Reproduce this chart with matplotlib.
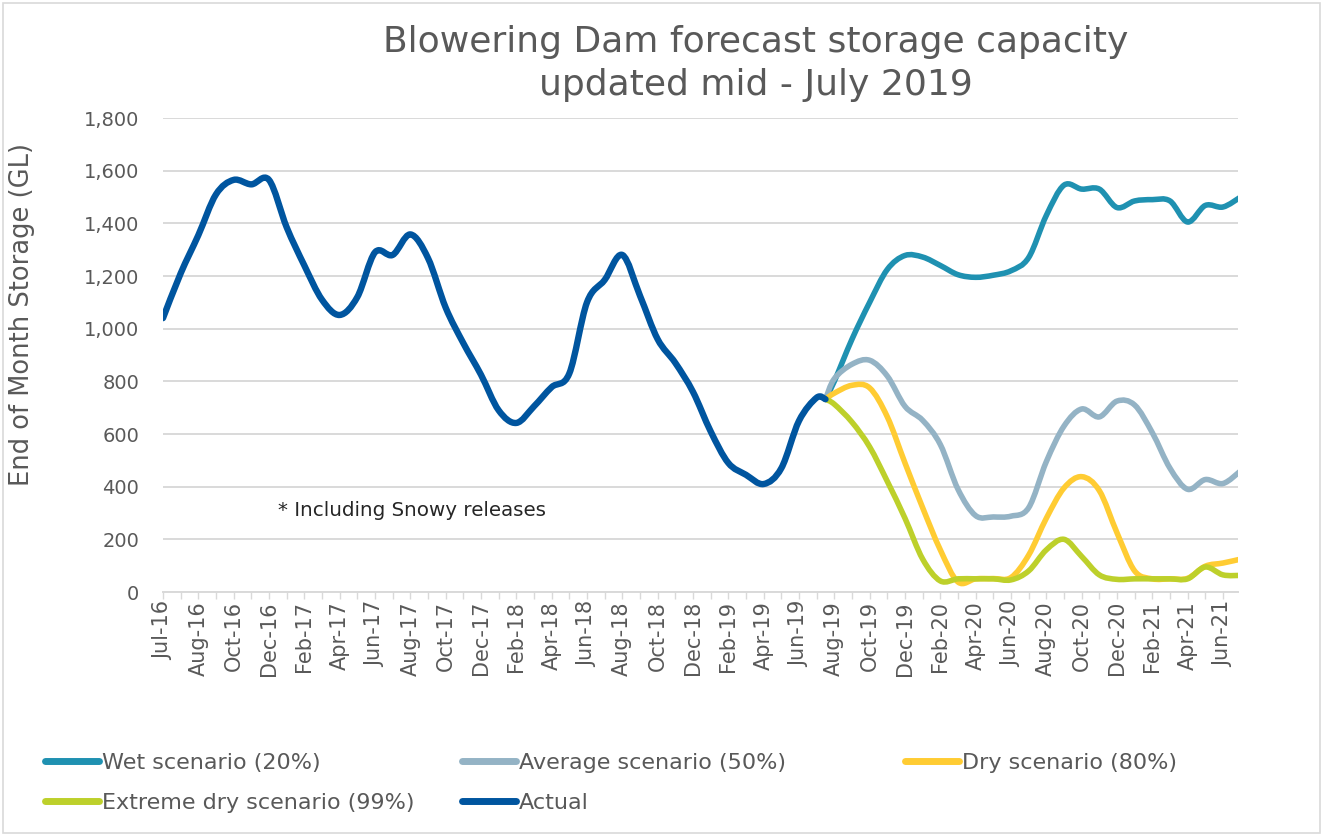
import numpy as np
import matplotlib
matplotlib.use("Agg")
import matplotlib.pyplot as plt
from matplotlib.path import Path
from matplotlib.patches import PathPatch, Rectangle
from matplotlib.lines import Line2D

# ---------------- data ----------------
tick_labels = ["Jul-16", "Aug-16", "Oct-16", "Dec-16", "Feb-17", "Apr-17", "Jun-17",
               "Aug-17", "Oct-17", "Dec-17", "Feb-18", "Apr-18", "Jun-18", "Aug-18",
               "Oct-18", "Dec-18", "Feb-19", "Apr-19", "Jun-19", "Aug-19", "Oct-19",
               "Dec-19", "Feb-20", "Apr-20", "Jun-20", "Aug-20", "Oct-20", "Dec-20",
               "Feb-21", "Apr-21", "Jun-21"]

# month positions on the category axis (0 = first category)
actual_months = list(range(0, 38)) + [37.5]
actual = [1040, 1210, 1355, 1510, 1565, 1548, 1565, 1385, 1240, 1110,
          1052, 1120, 1290, 1280, 1358, 1268, 1080, 945, 825, 690,
          642, 705, 778, 830, 1100, 1185, 1280, 1125, 960, 870,
          760, 610, 490, 445, 410, 470, 650, 738, 732]

scenario_months = [37.5] + list(range(38, 62))
wet = [732, 800, 960, 1100, 1225, 1278, 1272, 1240, 1205, 1195, 1203, 1220, 1270,
       1430, 1545, 1530, 1530, 1460, 1485, 1490, 1485, 1405, 1468, 1462, 1500]
average = [732, 810, 865, 880, 820, 705, 652, 560, 390, 290, 285, 288, 320,
           495, 630, 695, 665, 725, 710, 605, 470, 390, 427, 412, 460]
dry = [732, 755, 785, 775, 665, 490, 320, 160, 38, 50, 51, 55, 140,
       280, 395, 438, 385, 225, 80, 50, 50, 52, 98, 110, 125]
extreme = [732, 713, 645, 551, 420, 280, 125, 42, 50, 50, 50, 46, 80,
           160, 200, 135, 65, 48, 50, 50, 50, 50, 95, 65, 63]

series = [
    ("Wet scenario (20%)", scenario_months, wet, "#1F91B1"),
    ("Average scenario (50%)", scenario_months, average, "#94B3C5"),
    ("Dry scenario (80%)", scenario_months, dry, "#FFCC33"),
    ("Extreme dry scenario (99%)", scenario_months, extreme, "#BDD02B"),
    ("Actual", actual_months, actual, "#00559F"),
]

# ---------------- helpers ----------------
def smooth_path(xs, ys):
    """Excel-like smoothed line: cubic Bezier through the points."""
    pts = np.column_stack([np.asarray(xs, float), np.asarray(ys, float)])
    n = len(pts)
    verts = [pts[0]]
    codes = [Path.MOVETO]
    for i in range(n - 1):
        p0 = pts[i - 1] if i > 0 else pts[i]
        p1 = pts[i]
        p2 = pts[i + 1]
        p3 = pts[i + 2] if i + 2 < n else pts[i + 1]
        c1 = p1 + (p2 - p0) / 6.0
        c2 = p2 - (p3 - p1) / 6.0
        verts += [c1, c2, p2]
        codes += [Path.CURVE4] * 3
    return Path(verts, codes)

# ---------------- figure ----------------
plt.rcParams["font.family"] = ["DejaVu Sans"]
W, H = 1325, 836
fig = plt.figure(figsize=(W / 100, H / 100), dpi=100)
fig.patch.set_facecolor("white")

L, R, T, B = 163, 1238, 118, 592
ax = fig.add_axes([L / W, 1 - B / H, (R - L) / W, (B - T) / H])

grey_txt = "#595959"
grid_c = "#D9D9D9"

for name, xs, ys, col in series:
    lw = 4.6 if name == "Actual" else 4.0
    patch = PathPatch(smooth_path(xs, ys), facecolor="none", edgecolor=col,
                      linewidth=lw, capstyle="round", joinstyle="round", zorder=3)
    ax.add_patch(patch)

ax.set_xlim(0, 60.85)
ax.set_ylim(0, 1800)

ax.set_yticks(np.arange(0, 1801, 200))
ax.set_yticklabels([f"{v:,}" for v in range(0, 1801, 200)])
ax.yaxis.grid(True, color=grid_c, linewidth=1.4)
ax.set_axisbelow(True)

xt = np.arange(0, 61, 1)
ax.set_xticks(xt)
labels = []
for i in xt:
    labels.append(tick_labels[i // 2] if i % 2 == 0 else "")
ax.set_xticklabels(labels, rotation=90)

for s in ["top", "right", "left"]:
    ax.spines[s].set_visible(False)
ax.spines["bottom"].set_color(grid_c)
ax.spines["bottom"].set_linewidth(1.4)

ax.tick_params(axis="y", length=0, pad=17, labelsize=14, labelcolor=grey_txt)
ax.tick_params(axis="x", length=5, width=1, color=grid_c, pad=1.5,
               labelsize=15, labelcolor=grey_txt)

ax.set_ylabel("End of Month Storage (GL)", fontsize=18.5, color=grey_txt)
ax.yaxis.set_label_coords((35 - L) / (R - L), (B - 315) / (B - T))

ax.text((278 - L) / (R - L), (B - 511) / (B - T), "* Including Snowy releases",
        transform=ax.transAxes, fontsize=14.3, color="#262626",
        ha="left", va="center")

# title
fig.text(756 / W, 1 - 42 / H, "Blowering Dam forecast storage capacity",
         ha="center", va="center", fontsize=26, color=grey_txt)
fig.text(756 / W, 1 - 85 / H, "updated mid - July 2019",
         ha="center", va="center", fontsize=26, color=grey_txt)

# legend: three columns placed like the reference
def handle(col):
    return Line2D([], [], color=col, linewidth=5, solid_capstyle="round")

cols = {name: col for name, _, _, col in series}
groups = [(45, ["Wet scenario (20%)", "Extreme dry scenario (99%)"]),
          (462, ["Average scenario (50%)", "Actual"]),
          (905, ["Dry scenario (80%)"])]
for x0, names in groups:
    fig.legend([handle(cols[n]) for n in names], names,
               loc="upper left", bbox_to_anchor=(x0 / W, 1 - 753 / H),
               frameon=False, fontsize=16, handlelength=2.45,
               handletextpad=0.1, borderpad=0, borderaxespad=0,
               labelspacing=0.9, labelcolor=grey_txt)

# chart border
fig.patches.append(Rectangle((3 / W, 3 / H), (1320 - 3) / W, (833 - 3) / H,
                             transform=fig.transFigure, fill=False,
                             edgecolor=grid_c, linewidth=1.2))

fig.savefig("out.png", dpi=100, facecolor="white")
